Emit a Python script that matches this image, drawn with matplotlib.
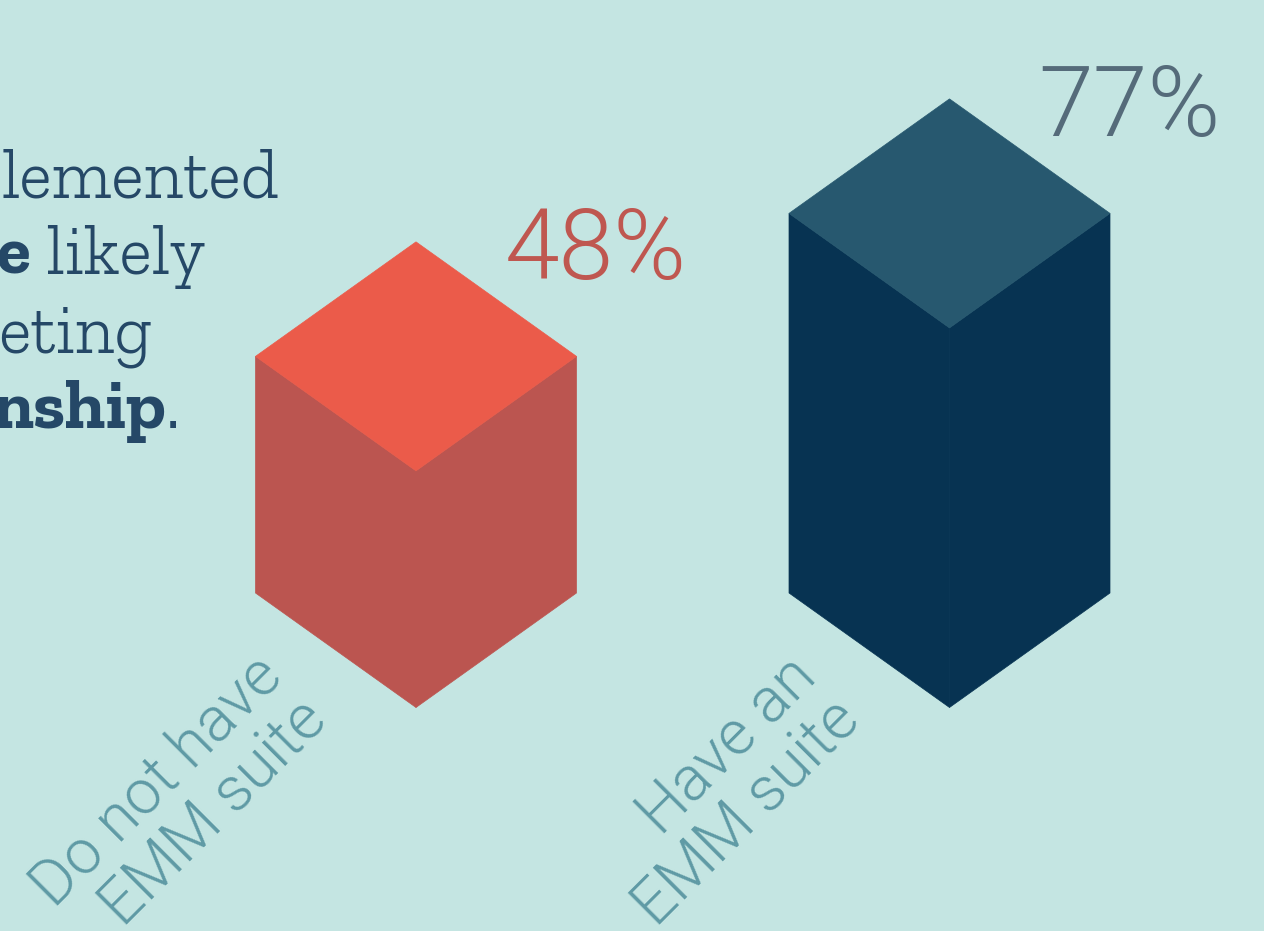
import matplotlib.pyplot as plt
import matplotlib.font_manager as fm
from matplotlib.patches import Polygon

# data
groups = ["Do not have\nEMM suite", "Have an\nEMM suite"]
values = [48, 77]
top_colors = ["#eb5b4a", "#27586f"]
side_colors = ["#bb5550", "#073352"]
pct_colors = ["#bf5750", "#556b7a"]

bg = "#c4e5e2"
label_color = "#5f9aa5"
text_color = "#254867"

# static Roboto Light file (the variable Roboto renders as thin/condensed)
light_path = None
for f in fm.fontManager.ttflist:
    if f.fname.endswith("Roboto-Light.ttf"):
        light_path = f.fname
        break
if light_path:
    roboto_light = fm.FontProperties(fname=light_path)
else:
    roboto_light = fm.FontProperties(family="Roboto", weight="light")

# layout (pixels)
centers = [416, 949.5]
half_w = 160.5
half_d = 114.5
base_y = 593
px_per_pct = 4.93

fig = plt.figure(figsize=(12.64, 9.31), dpi=100, facecolor=bg)
ax = fig.add_axes([0, 0, 1, 1])
ax.set_xlim(0, 1264)
ax.set_ylim(931, 0)
ax.axis("off")
ax.set_facecolor(bg)

for cx, v, tc, sc, pc, lab in zip(centers, values, top_colors, side_colors,
                                   pct_colors, groups):
    top_y = base_y - v * px_per_pct
    left = [(cx - half_w, top_y), (cx, top_y + half_d), (cx, base_y + half_d), (cx - half_w, base_y)]
    right = [(cx, top_y + half_d), (cx + half_w, top_y), (cx + half_w, base_y), (cx, base_y + half_d)]
    top = [(cx - half_w, top_y), (cx, top_y - half_d), (cx + half_w, top_y), (cx, top_y + half_d)]
    for pts, col in [(left, sc), (right, sc), (top, tc)]:
        ax.add_patch(Polygon(pts, closed=True, facecolor=col, edgecolor=col, linewidth=0.5))
    ax.text(cx + 89, top_y - 77, f"{v}%", color=pc, fontproperties=roboto_light,
            fontsize=71, ha="left", va="baseline")
    ax.text(cx - half_w - 4, base_y + 52, lab, color=label_color,
            fontproperties=roboto_light, fontsize=45, rotation=45, rotation_mode="anchor",
            ha="right", va="top", multialignment="right", linespacing=1.05)

# headline text, cut at the left edge: hidden prefix + visible part
renderer = fig.canvas.get_renderer()
lines = [
    ("imp", "light", [("lemented", "light")]),
    ("mor", "bold", [("e", "bold"), (" likely", "light")]),
    ("mark", "light", [("eting", "light")]),
    ("relatio", "bold", [("nship", "bold"), (".", "light")]),
]
line_starts = [2, -4, -2, -8]
baselines = [197, 274, 352, 428]
for (pre, pre_w, parts), x0, yb in zip(lines, line_starts, baselines):
    ax.text(x0, yb, pre, color=text_color, fontsize=50, fontfamily="Zilla Slab",
            fontweight=pre_w, ha="right", va="baseline")
    x = x0
    for s, w in parts:
        t = ax.text(x, yb, s, color=text_color, fontsize=50, fontfamily="Zilla Slab",
                    fontweight=w, ha="left", va="baseline")
        x = x + t.get_window_extent(renderer).width

fig.savefig("out.png", dpi=100, facecolor=bg)
